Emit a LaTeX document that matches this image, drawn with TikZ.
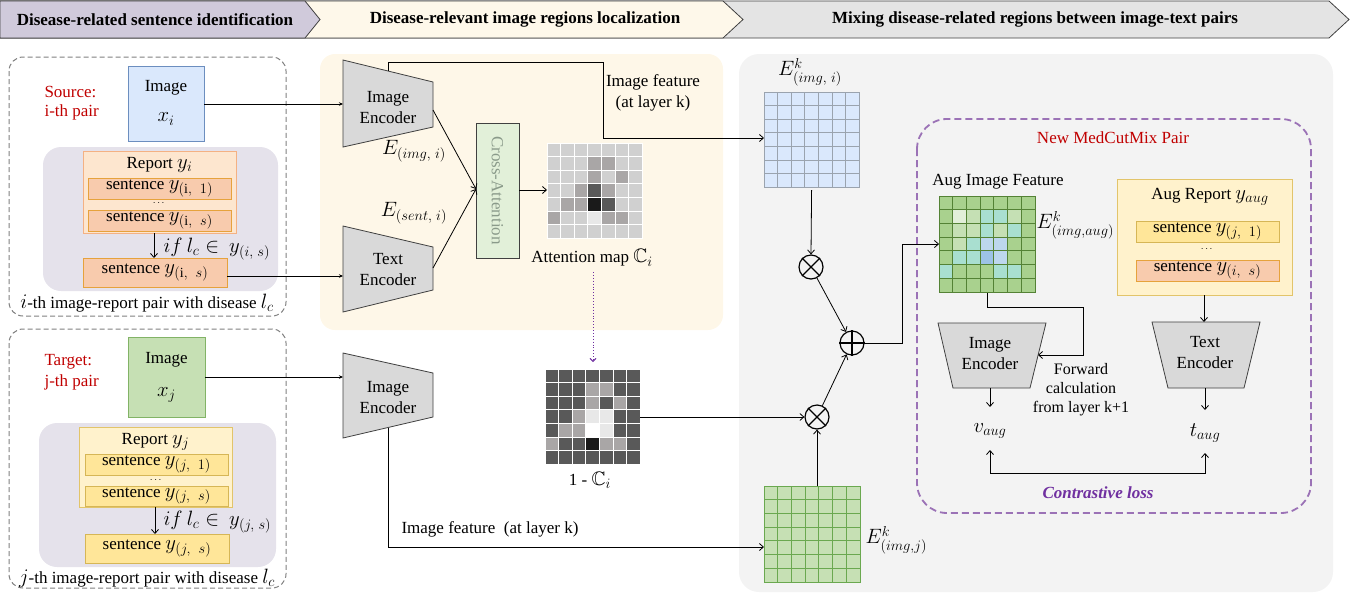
\documentclass[tikz,border=0pt]{standalone}
\usepackage{amsmath,amssymb}
\usepackage{fontspec}
\setmainfont{Liberation Serif}
\usetikzlibrary{arrows.meta}
\DeclareMathSizes{17}{19.5}{14}{11}
\DeclareMathSizes{16}{18}{13}{10}

\definecolor{bnA}{HTML}{D0CADB}
\definecolor{bnB}{HTML}{FEF8EA}
\definecolor{bnC}{HTML}{E4E4E4}
\definecolor{bnLine}{HTML}{404040}
\definecolor{creamBg}{HTML}{FEF7E8}
\definecolor{greyBg}{HTML}{F3F3F3}
\definecolor{lavBg}{HTML}{E5E2EB}
\definecolor{dashGrey}{HTML}{7F7F7F}
\definecolor{imgBlue}{HTML}{DAE8FC}
\definecolor{imgBlueLn}{HTML}{6C8EBF}
\definecolor{imgGreen}{HTML}{C6E0B4}
\definecolor{imgGreenLn}{HTML}{82B366}
\definecolor{repOr}{HTML}{FDE6CF}
\definecolor{repOrLn}{HTML}{F4B183}
\definecolor{senOr}{HTML}{F8CBAD}
\definecolor{senOrLn}{HTML}{E6A23C}
\definecolor{repYe}{HTML}{FFF2CC}
\definecolor{repYeLn}{HTML}{E2C46A}
\definecolor{senYe}{HTML}{FFE699}
\definecolor{senYeLn}{HTML}{D6B656}
\definecolor{encFill}{HTML}{D9D9D9}
\definecolor{encLn}{HTML}{404040}
\definecolor{crossFill}{HTML}{E2F0D9}
\definecolor{crossTxt}{HTML}{8A9A8A}
\definecolor{srcRed}{HTML}{C00000}
\definecolor{mixPurple}{HTML}{9B72B6}
\definecolor{lossPurple}{HTML}{7030A0}
\definecolor{aL}{HTML}{D0D0D0}
\definecolor{aM}{HTML}{A9A6A6}
\definecolor{aD}{HTML}{595959}
\definecolor{aB}{HTML}{1A1A1A}
\definecolor{aW}{HTML}{E8E8E8}
\definecolor{aX}{HTML}{FFFFFF}
\definecolor{gG}{HTML}{A9D18E}
\definecolor{gV}{HTML}{E2EFD9}
\definecolor{gL}{HTML}{C5E0B4}
\definecolor{gT}{HTML}{A9DFD0}
\definecolor{gS}{HTML}{BDD7EE}
\definecolor{gB}{HTML}{9DC3E6}
\definecolor{gLn}{HTML}{548235}
\definecolor{blueCellLn}{HTML}{9AA3AE}
\definecolor{greenCellLn}{HTML}{6AA84F}

\newcommand{\mygrid}[6]{%
  \foreach \rw [count=\r from 0] in {#6} {
    \foreach \cl [count=\k from 0] in \rw {
      \filldraw[fill=\cl, draw=#4, line width=#5]
        ({#1+\k*#3},{#2+\r*#3}) rectangle ++(#3,#3);
    }
  }%
}

\begin{document}
\begin{tikzpicture}[x=1pt,y=-1pt,
  every node/.style={font=\fontsize{17}{21}\selectfont},
  arr/.style={-{Straight Barb[length=4pt,width=7pt]}, line width=0.8pt},
  arrs/.style={-{Stealth[length=4pt,width=3.5pt]}, line width=0.8pt},
  bann/.style={draw=bnLine, line width=0.8pt},
  bantxt/.style={font=\fontsize{17}{19}\selectfont\bfseries},
  dashbox/.style={draw=dashGrey, line width=1pt, rounded corners=14pt, dash pattern=on 5pt off 3pt},
  enc/.style={fill=encFill, draw=encLn, line width=0.8pt},
  ebox/.style={inner sep=0pt, outer sep=0pt},
  sentO/.style={ebox, fill=senOr, draw=senOrLn, line width=0.8pt},
  sentY/.style={ebox, fill=senYe, draw=senYeLn, line width=0.8pt},
  circ/.style={circle, draw=black, line width=1.2pt, minimum size=24pt, inner sep=0pt},
  redtxt/.style={text=srcRed, align=left, anchor=west}
]
\useasboundingbox (0,0) rectangle (1359,598);

% ---------------- banner ----------------
\filldraw[bann, fill=bnC] (0,1) -- (1329,1) -- (1349,19.5) -- (1329,38) -- (0,38) -- cycle;
\filldraw[bann, fill=bnB] (0,1) -- (723,1) -- (743,19.5) -- (723,38) -- (0,38) -- cycle;
\filldraw[bann, fill=bnA] (0,1) -- (305,1) -- (320,19.5) -- (305,38) -- (0,38) -- cycle;
\node[bantxt] (ban1) at (155,19.5) {Disease-related sentence identification};
\node[bantxt] (ban2) at (525,19.5) {Disease-relevant image regions localization};
\node[bantxt] (ban3) at (1035,19.5) {Mixing disease-related regions between image-text pairs};

% ---------------- backgrounds ----------------
\fill[creamBg, rounded corners=15pt] (320,54) rectangle (723,330);
\fill[greyBg, rounded corners=20pt] (739,54) rectangle (1333,592);

% ---------------- left top panel ----------------
\draw[dashbox] (9,57) rectangle (286,316);
\fill[lavBg, rounded corners=18pt] (43,147) rectangle (278,291);
\node[redtxt] (src1) at (41,92) {Source:};
\node[redtxt] (src2) at (41,112) {i-th pair};
\node[ebox, fill=imgBlue, draw=imgBlueLn, line width=0.8pt, minimum width=76pt, minimum height=75pt] (imgi) at (166,103.5) {};
\node (imgiT) at (166,88) {Image};
\node (imgiX) at (166,119) {$x_i$};
\node[ebox, fill=repOr, draw=repOrLn, line width=0.8pt, minimum width=153pt, minimum height=82pt] (repi) at (159.5,192) {};
\node (repiT) at (159.5,165) {Report $y_i$};
\node[sentO, minimum width=143pt, minimum height=21pt] (si1) at (159.5,188.5) {sentence $y_{(\mathrm{i},\;\;1)}$};
\node[font=\fontsize{10}{10}\selectfont] (dotsi) at (159.5,203.5) {$\cdots$};
\node[sentO, minimum width=143pt, minimum height=21pt] (si2) at (159.5,220.5) {sentence $y_{(\mathrm{i},\;\;s)}$};
\node[sentO, minimum width=144pt, minimum height=29pt] (sib) at (155,272.5) {sentence $y_{(\mathrm{i},\;\;s)}$};
\draw[arr] (154,233) -- (sib.north -| 154,0);
\node[anchor=west] (ifi) at (160,249) {$if\ l_c \in\ y_{(i,\ s)}$};
\node (capi) at (147,303) {$i$-th image-report pair with disease $l_c$};

% ---------------- left bottom panel ----------------
\draw[dashbox] (9,329) rectangle (286,588);
\fill[lavBg, rounded corners=18pt] (39,423) rectangle (276,567);
\node[redtxt] (tg1) at (41,362) {Target:};
\node[redtxt] (tg2) at (41,382) {j-th pair};
\node[ebox, fill=imgGreen, draw=imgGreenLn, line width=0.8pt, minimum width=77pt, minimum height=80pt] (imgj) at (166.5,377) {};
\node (imgjT) at (166.5,360) {Image};
\node (imgjX) at (166.5,395) {$x_j$};
\node[ebox, fill=repYe, draw=repYeLn, line width=0.8pt, minimum width=153pt, minimum height=80pt] (repj) at (155.5,467) {};
\node (repjT) at (155.5,442) {Report $y_j$};
\node[sentY, minimum width=143pt, minimum height=21pt] (sj1) at (156.5,464.5) {sentence $y_{(j,\;\;1)}$};
\node[font=\fontsize{10}{10}\selectfont] (dotsj) at (156.5,480.5) {$\cdots$};
\node[sentY, minimum width=143pt, minimum height=20pt] (sj2) at (156.5,496) {sentence $y_{(j,\;\;s)}$};
\node[sentY, minimum width=144pt, minimum height=29pt] (sjb) at (157,548.5) {sentence $y_{(j,\;\;s)}$};
\draw[arr] (155,507) -- (sjb.north -| 155,0);
\node[anchor=west] (ifj) at (160,522) {$if\ l_c \in\ y_{(j,\ s)}$};
\node (capj) at (147,578) {$j$-th image-report pair with disease $l_c$};

% ---------------- encoders (middle) ----------------
\filldraw[enc] (343,60) -- (433,82) -- (433,127) -- (343,147) -- cycle;
\node[align=center] (enci) at (388,107.5) {Image\\Encoder};
\filldraw[enc] (343,226) -- (433,247) -- (433,290) -- (343,312) -- cycle;
\node[align=center] (enct) at (388,269.5) {Text\\Encoder};
\filldraw[enc] (343,353) -- (433,373) -- (433,417) -- (343,438) -- cycle;
\node[align=center] (encj) at (388,398) {Image\\Encoder};

\coordinate (enciL) at (343,104);
\coordinate (enctL) at (343,276);
\coordinate (encjL) at (343,377);
\draw[arrs] (imgi.east |- enciL) -- (enciL);
\draw[arrs] (sib.east |- enctL) -- (enctL);
\draw[arrs] (imgj.east |- encjL) -- (encjL);

% cross attention
\node[ebox, fill=crossFill, draw=encLn, line width=0.8pt, minimum width=43pt, minimum height=135pt] (cross) at (497.5,190.5) {};
\node[rotate=-90, text=crossTxt] (crossT) at (497.5,190.5) {Cross-Attention};
\coordinate (crossIn) at (476,189);
\draw[arr] (433,110) -- (crossIn);
\draw[arr] (433,268) -- (crossIn);
\node (eimg) at (414,151) {$E_{(img,\ i)}$};
\node (esent) at (414,213) {$E_{(sent,\ i)}$};

% attention map
\mygrid{547}{143}{13.6}{white}{1pt}{{aL,aL,aL,aL,aL,aL,aL},{aL,aL,aL,aM,aM,aL,aL},{aL,aL,aL,aM,aL,aM,aL},{aL,aL,aM,aD,aM,aL,aL},{aL,aM,aM,aB,aD,aL,aL},{aM,aL,aL,aW,aM,aM,aL},{aL,aL,aL,aL,aL,aL,aL}}
\node[ebox, minimum width=95.2pt, minimum height=95.2pt] (att) at (594.6,190.6) {};
\draw[arr] (cross.east |- 0,190) -- (att.west |- 0,190);
\node (attT) at (592,258) {Attention map $\mathbb{C}_i$};

% 1 - C map
\mygrid{545}{369}{13.6}{white}{1pt}{{aD,aD,aD,aD,aD,aD,aD},{aD,aD,aD,aM,aM,aD,aD},{aD,aD,aD,aM,aD,aM,aD},{aD,aD,aM,aW,aW,aD,aD},{aD,aM,aM,aX,aW,aD,aD},{aM,aD,aD,aB,aM,aM,aD},{aD,aD,aD,aD,aD,aD,aD}}
\node[ebox, minimum width=95.2pt, minimum height=95.2pt] (inv) at (592.6,416.6) {};
\node (invT) at (590,480) {1 - $\mathbb{C}_i$};
\draw[lossPurple, dotted, line width=0.9pt, -{Straight Barb[length=3pt,width=6pt]}] (593,272) -- (593,362);

% image feature paths
\draw[arr] (388,71) -- (388,62) -- (603,62) -- (603,138) -- (764,138);
\node[align=center] (featT) at (653,92.5) {Image feature\\(at layer k)};
\draw[arr] (388,427.5) -- (388,547) -- (764,547);
\node (featB) at (490,529) {Image feature \ (at layer k)};

% ---------------- right part ----------------
% blue grid
\foreach \r in {0,...,6}{\foreach \k in {0,...,6}{
  \filldraw[fill=imgBlue, draw=blueCellLn, line width=0.8pt] ({764+\k*13.6},{92+\r*13.6}) rectangle ++(13.6,13.6);}}
\node[ebox, minimum width=95.2pt, minimum height=95.2pt] (gi) at (811.6,139.6) {};
\node (giT) at (810,72) {$E^{k}_{(img,\ i)}$};

% green grid j
\foreach \r in {0,...,6}{\foreach \k in {0,...,6}{
  \filldraw[fill=imgGreen, draw=greenCellLn, line width=0.8pt] ({764+\k*13.7},{486+\r*13.7}) rectangle ++(13.7,13.7);}}
\node[ebox, minimum width=95.9pt, minimum height=95.9pt] (gj) at (812,534) {};
\node[anchor=west] (gjT) at (862,540) {$E^{k}_{(img,j)}$};

% operators
\node[circ] (o1) at (811,267) {};
\draw[line width=1.2pt] (o1.north west) -- (o1.south east) (o1.north east) -- (o1.south west);
\node[circ] (o2) at (817,417) {};
\draw[line width=1.2pt] (o2.north west) -- (o2.south east) (o2.north east) -- (o2.south west);
\node[circ] (op) at (852,343) {};
\draw[line width=1.2pt] (op.north) -- (op.south) (op.west) -- (op.east);

\draw[arr] (gi.south |- 0,190) -- (o1.north);
\draw[arr] (o1) -- (op);
\draw[arr] (o2) -- (op);
\draw[arr] (inv.east |- o2) -- (o2.west);
\draw[arr] (gj.north -| o2) -- (o2.south);

% purple dashed box
\draw[mixPurple, line width=1.8pt, dash pattern=on 7pt off 4pt, rounded corners=30pt] (917,119) rectangle (1311,513);
\node[text=srcRed] (newT) at (1113,138) {New MedCutMix Pair};

% aug grid
\node (augT) at (998,182) {Aug Image Feature};
\mygrid{939}{196}{13.7}{gLn}{0.8pt}{{gG,gG,gG,gG,gG,gG,gG},{gG,gV,gL,gT,gT,gL,gG},{gG,gL,gL,gT,gL,gT,gG},{gG,gL,gT,gS,gS,gG,gG},{gG,gT,gT,gB,gS,gG,gG},{gT,gG,gG,gG,gT,gT,gG},{gG,gG,gG,gG,gG,gG,gG}}
\node[ebox, minimum width=95.9pt, minimum height=95.9pt] (ga) at (987,244) {};
\node[anchor=west] (gaT) at (1033,225) {$E^{k}_{(img,aug)}$};
\draw[arr] (op.east) -- (902,343) -- (902,244) -- (ga.west);

% aug report
\node[ebox, fill=repYe, draw=repYeLn, line width=0.8pt, minimum width=175pt, minimum height=116pt] (repa) at (1204.5,237) {};
\node (repaT) at (1210,197) {Aug Report $y_{aug}$};
\node[sentY, minimum width=143pt, minimum height=21pt] (sa1) at (1207.5,231.5) {sentence $y_{(j,\;\;1)}$};
\node[font=\fontsize{10}{10}\selectfont] (dotsa) at (1207.5,249) {$\cdots$};
\node[sentO, minimum width=143pt, minimum height=21pt] (sa2) at (1207.5,270.5) {sentence $y_{(i,\;\;s)}$};

% right encoders
\filldraw[enc] (938,323) -- (1046,323) -- (1030,388) -- (953,388) -- cycle;
\node[align=center] (encA) at (990,353.5) {Image\\Encoder};
\filldraw[enc] (1152,322) -- (1260,322) -- (1244,388) -- (1168,388) -- cycle;
\node[align=center] (encB) at (1205,352.5) {Text\\Encoder};
\coordinate (encAR) at (1038,355);
\draw[arr] (987,293) -- (987,307) -- (1083,307) -- (1083,355) -- (encAR);
\node[align=center, font=\fontsize{16}{19}\selectfont] (fwd) at (1081,390) {Forward\\calculation\\from layer k+1};
\draw[arr] (1204,295) -- (1204,322);

\draw[arr] (990,388) -- (990,407);
\node (vaug) at (990,431) {$v_{aug}$};
\draw[arr] (1205,388) -- (1205,410);
\node (taug) at (1205,433) {$t_{aug}$};
\coordinate (vA) at (990,450);
\coordinate (tA) at (1205,453);
\draw[{Straight Barb[length=4pt,width=7pt]}-{Straight Barb[length=4pt,width=7pt]}, line width=0.8pt] (vA) -- (990,473) -- (1205,473) -- (tA);
\node[text=lossPurple, font=\fontsize{17}{19}\selectfont\bfseries\itshape] (loss) at (1098,493) {Contrastive loss};

\end{tikzpicture}
\end{document}
